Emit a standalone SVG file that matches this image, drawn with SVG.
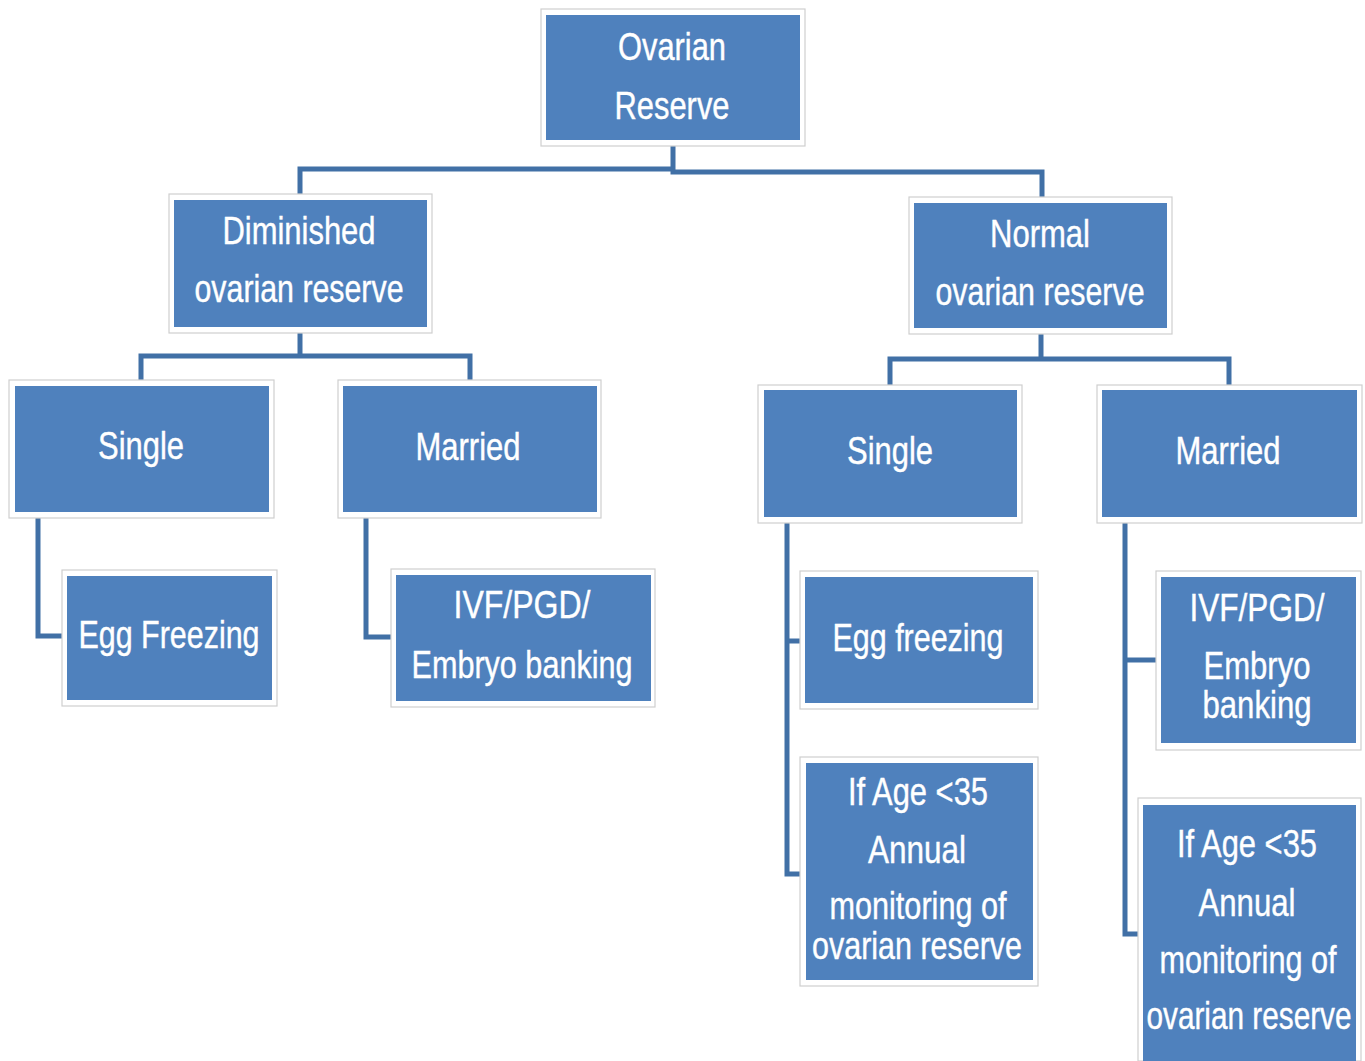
<svg xmlns="http://www.w3.org/2000/svg" width="1365" height="1061" viewBox="0 0 1365 1061">
<style>
.o{fill:#ffffff;stroke:#cfcfcf;stroke-width:1.2}
.i{fill:#4f81bd}
.t{fill:#ffffff;stroke:#ffffff;stroke-width:0.4;font-family:"Liberation Sans",Arial,sans-serif;font-size:38px;text-anchor:middle}
.c{fill:none;stroke:#4170a6;stroke-width:5;stroke-linejoin:miter}
</style>
<rect width="1365" height="1061" fill="#ffffff"/>
<g id="connectors">
<path class="c" d="M673,146 V172 H1042 V197"/>
<path class="c" d="M300,194 V169 H675"/>
<path class="c" d="M300,333 V357"/>
<path class="c" d="M141,380 V356 H470 V380"/>
<path class="c" d="M1041,334 V359"/>
<path class="c" d="M890,385 V359 H1229 V385"/>
<path class="c" d="M38,518 V636 H62"/>
<path class="c" d="M366,518 V637 H391"/>
<path class="c" d="M787,523 V874 H800"/>
<path class="c" d="M787,641 H800"/>
<path class="c" d="M1125,523 V934 H1138"/>
<path class="c" d="M1125,660 H1156"/>
</g>
<g id="root">
<rect class="o" x="541" y="9" width="264" height="137"/>
<rect class="i" x="546" y="15" width="254" height="125"/>
<text class="t" x="672" y="60" textLength="108" lengthAdjust="spacingAndGlyphs">Ovarian</text>
<text class="t" x="672" y="119" textLength="115" lengthAdjust="spacingAndGlyphs">Reserve</text>
</g>
<g id="diminished">
<rect class="o" x="169" y="194" width="263" height="139"/>
<rect class="i" x="174" y="200" width="253" height="127"/>
<text class="t" x="299" y="244" textLength="153" lengthAdjust="spacingAndGlyphs">Diminished</text>
<text class="t" x="299" y="302" textLength="209" lengthAdjust="spacingAndGlyphs">ovarian reserve</text>
</g>
<g id="normal">
<rect class="o" x="909" y="197" width="263" height="137"/>
<rect class="i" x="914" y="203" width="253" height="125"/>
<text class="t" x="1040" y="247" textLength="100" lengthAdjust="spacingAndGlyphs">Normal</text>
<text class="t" x="1040" y="305" textLength="209" lengthAdjust="spacingAndGlyphs">ovarian reserve</text>
</g>
<g id="single-left">
<rect class="o" x="9" y="380" width="265" height="138"/>
<rect class="i" x="15" y="386" width="254" height="126"/>
<text class="t" x="141" y="459" textLength="86" lengthAdjust="spacingAndGlyphs">Single</text>
</g>
<g id="married-left">
<rect class="o" x="338" y="380" width="263" height="138"/>
<rect class="i" x="343" y="386" width="254" height="126"/>
<text class="t" x="468" y="460" textLength="105" lengthAdjust="spacingAndGlyphs">Married</text>
</g>
<g id="egg-left">
<rect class="o" x="62" y="570" width="215" height="136"/>
<rect class="i" x="67" y="576" width="205" height="124"/>
<text class="t" x="169" y="648" textLength="181" lengthAdjust="spacingAndGlyphs">Egg Freezing</text>
</g>
<g id="ivf-left">
<rect class="o" x="391" y="569" width="264" height="138"/>
<rect class="i" x="396" y="575" width="255" height="126"/>
<text class="t" x="522" y="618" textLength="137" lengthAdjust="spacingAndGlyphs">IVF/PGD/</text>
<text class="t" x="522" y="678" textLength="221" lengthAdjust="spacingAndGlyphs">Embryo banking</text>
</g>
<g id="single-right">
<rect class="o" x="758" y="385" width="264" height="138"/>
<rect class="i" x="764" y="390" width="253" height="127"/>
<text class="t" x="890" y="464" textLength="86" lengthAdjust="spacingAndGlyphs">Single</text>
</g>
<g id="married-right">
<rect class="o" x="1097" y="385" width="265" height="138"/>
<rect class="i" x="1102" y="390" width="255" height="127"/>
<text class="t" x="1228" y="464" textLength="105" lengthAdjust="spacingAndGlyphs">Married</text>
</g>
<g id="egg-right">
<rect class="o" x="800" y="571" width="238" height="138"/>
<rect class="i" x="805" y="577" width="228" height="126"/>
<text class="t" x="918" y="651" textLength="171" lengthAdjust="spacingAndGlyphs">Egg freezing</text>
</g>
<g id="age-single">
<rect class="o" x="800" y="757" width="238" height="229"/>
<rect class="i" x="806" y="763" width="227" height="217"/>
<text class="t" x="918" y="805" textLength="140" lengthAdjust="spacingAndGlyphs">If Age &lt;35</text>
<text class="t" x="917" y="863" textLength="98" lengthAdjust="spacingAndGlyphs">Annual</text>
<text class="t" x="918" y="919" textLength="177" lengthAdjust="spacingAndGlyphs">monitoring of</text>
<text class="t" x="917" y="959" textLength="210" lengthAdjust="spacingAndGlyphs">ovarian reserve</text>
</g>
<g id="ivf-right">
<rect class="o" x="1156" y="571" width="205" height="179"/>
<rect class="i" x="1161" y="577" width="195" height="166"/>
<text class="t" x="1257" y="621" textLength="135" lengthAdjust="spacingAndGlyphs">IVF/PGD/</text>
<text class="t" x="1257" y="679" textLength="107" lengthAdjust="spacingAndGlyphs">Embryo</text>
<text class="t" x="1257" y="718" textLength="109" lengthAdjust="spacingAndGlyphs">banking</text>
</g>
<g id="age-married">
<rect class="o" x="1138" y="798" width="223" height="263"/>
<rect class="i" x="1143" y="805" width="213" height="256"/>
<text class="t" x="1247" y="857" textLength="140" lengthAdjust="spacingAndGlyphs">If Age &lt;35</text>
<text class="t" x="1247" y="916" textLength="97" lengthAdjust="spacingAndGlyphs">Annual</text>
<text class="t" x="1248" y="973" textLength="177" lengthAdjust="spacingAndGlyphs">monitoring of</text>
<text class="t" x="1249" y="1029" textLength="205" lengthAdjust="spacingAndGlyphs">ovarian reserve</text>
</g>
</svg>
